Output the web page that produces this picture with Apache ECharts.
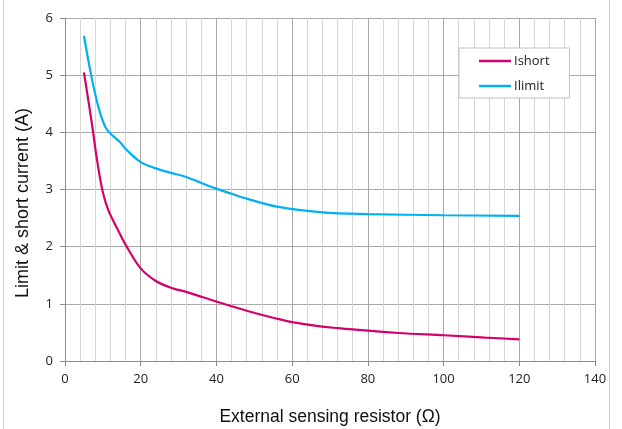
<!DOCTYPE html>
<html>
<head>
<meta charset="utf-8">
<script src="https://cdn.jsdelivr.net/npm/echarts@6/dist/echarts.min.js"></script>
<style>
html,body{margin:0;padding:0;background:#fff;}
#chart{width:622px;height:429px;}
</style>
</head>
<body>
<div id="chart"></div>
<script>
// Data
var ishortX = [5, 7, 8.5, 10, 11.5, 14, 16.3, 20, 24, 28.5, 32, 40, 48, 56, 60, 68, 72, 88, 100, 111, 120];
var ishortY = [5.05, 4.2, 3.5, 2.95, 2.63, 2.29, 2.0, 1.62, 1.40, 1.27, 1.21, 1.04, 0.88, 0.74, 0.68, 0.60, 0.576, 0.49, 0.45, 0.41, 0.38];
var ilimitX = [5, 7, 8.8, 10.6, 12, 14.5, 16.3, 20, 24, 28, 32, 36, 40, 44, 48, 56, 68, 80, 100, 120];
var ilimitY = [5.69, 4.97, 4.45, 4.10, 3.98, 3.83, 3.69, 3.48, 3.37, 3.29, 3.22, 3.115, 3.015, 2.925, 2.84, 2.70, 2.60, 2.57, 2.55, 2.54];
var seriesNames = ['Ishort', 'Ilimit'];
var xTitle = 'External sensing resistor (Ω)';
var yTitle = 'Limit & short current (A)';

function pairs(xs, ys) { return xs.map(function (x, i) { return [x, ys[i]]; }); }

var chart = echarts.init(document.getElementById('chart'), null, {renderer: 'canvas'});
chart.setOption({
  animation: false,
  backgroundColor: '#ffffff',
  textStyle: {fontFamily: 'Open Sans'},
  graphic: [
    {type: 'rect', shape: {x: 3, y: 0, width: 1, height: 429}, style: {fill: '#c9d2dc'}, silent: true},
    {type: 'rect', shape: {x: 609, y: 0, width: 1, height: 429}, style: {fill: '#c9d2dc'}, silent: true}
  ],
  grid: {left: 65, right: 27, top: 18, bottom: 68, containLabel: false, outerBoundsMode: 'none'},
  legend: {
    orient: 'vertical',
    left: 459, top: 48,
    data: seriesNames,
    icon: 'rect',
    itemWidth: 32, itemHeight: 2.5,
    itemGap: 9,
    padding: [5, 20, 4, 20],
    backgroundColor: '#ffffff',
    borderColor: '#bfbfbf', borderWidth: 1,
    textStyle: {fontFamily: 'Open Sans', fontSize: 13, color: '#222', lineHeight: 16, padding: [0, 0, 0, -2]}
  },
  xAxis: {
    type: 'value', min: 0, max: 140, interval: 20,
    name: xTitle, nameLocation: 'middle', nameGap: 47,
    nameTextStyle: {fontFamily: 'Liberation Sans', fontSize: 17.5, color: '#111'},
    axisLine: {show: true, lineStyle: {color: '#8c8c8c', width: 1}},
    axisTick: {show: true, length: 5, lineStyle: {color: '#8c8c8c'}},
    axisLabel: {fontFamily: 'Open Sans', fontSize: 13, color: '#222', margin: 12},
    splitLine: {show: true, lineStyle: {color: '#a8a8a8', width: 1}},
    minorTick: {show: false, splitNumber: 5},
    minorSplitLine: {show: true, lineStyle: {color: '#d6d6d6', width: 1}}
  },
  yAxis: {
    type: 'value', min: 0, max: 6, interval: 1,
    name: yTitle, nameLocation: 'middle', nameGap: 33,
    nameTextStyle: {fontFamily: 'Liberation Sans', fontSize: 18, color: '#111', padding: [0, 27, 0, 0]},
    axisLine: {show: true, lineStyle: {color: '#8c8c8c', width: 1}},
    axisTick: {show: true, length: 5, lineStyle: {color: '#8c8c8c'}},
    axisLabel: {fontFamily: 'Open Sans', fontSize: 13, color: '#222', margin: 12},
    splitLine: {show: true, lineStyle: {color: '#a8a8a8', width: 1}}
  },
  series: [
    {
      name: seriesNames[0], type: 'line', data: pairs(ishortX, ishortY),
      smooth: 0.35, symbol: 'none', color: '#d4006c',
      lineStyle: {width: 2.2, color: '#d4006c'}
    },
    {
      name: seriesNames[1], type: 'line', data: pairs(ilimitX, ilimitY),
      smooth: 0.35, symbol: 'none', color: '#00b0f0',
      lineStyle: {width: 2.2, color: '#00b0f0'}
    }
  ]
});
</script>
</body>
</html>
